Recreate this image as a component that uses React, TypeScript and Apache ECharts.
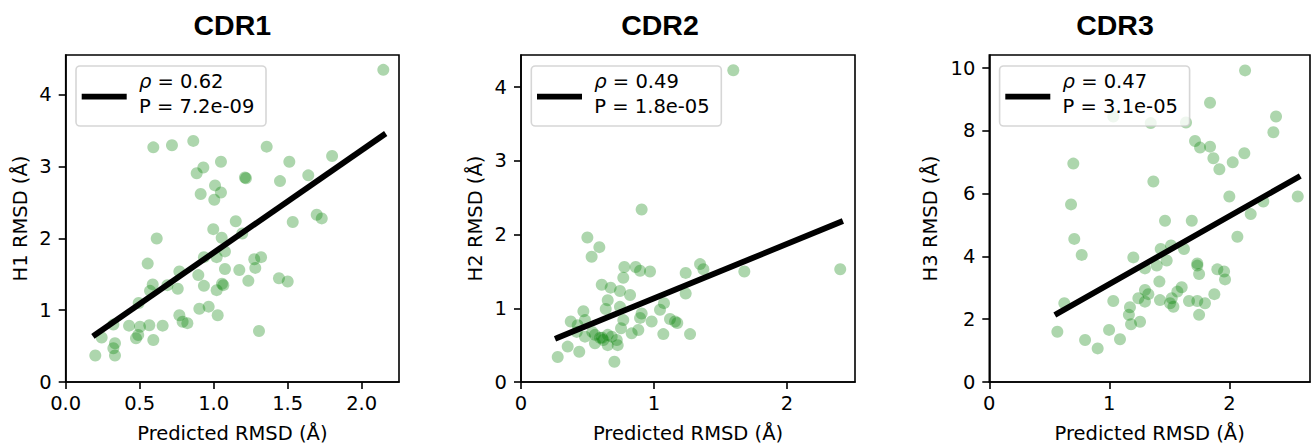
import React, { useEffect, useRef } from "react";
import * as echarts from "echarts";

// ---------- data ----------
const titles = ["CDR1", "CDR2", "CDR3"];
const yLabels = ["H1 RMSD (Å)", "H2 RMSD (Å)", "H3 RMSD (Å)"];
const xLabel = "Predicted RMSD (Å)";
const rhoValues = ["0.62", "0.49", "0.47"];
const pValues = ["7.2e-09", "1.8e-05", "3.1e-05"];

const cdr1Pred = [2.146, 0.592, 0.718, 0.862, 1.358, 0.885, 0.93, 1.049, 1.211, 1.218, 1.009, 1.049, 0.912, 1.004, 1.511, 1.448, 1.639, 1.8, 1.696, 1.73, 1.534, 1.149, 0.997, 1.193, 1.054, 0.615, 0.934, 1.02, 1.076, 1.274, 1.32, 1.281, 0.554, 0.768, 0.896, 1.076, 1.173, 1.234, 1.441, 1.5, 0.588, 0.687, 0.57, 0.757, 0.934, 1.056, 1.065, 1.02, 0.493, 0.903, 0.966, 1.027, 0.768, 0.79, 0.822, 0.322, 0.428, 0.502, 0.565, 0.655, 0.243, 0.475, 0.49, 0.592, 0.333, 0.322, 0.2, 0.333, 1.306];
const cdr1Rmsd = [4.35, 3.27, 3.3, 3.36, 3.28, 2.91, 2.99, 3.07, 2.85, 2.84, 2.74, 2.64, 2.62, 2.54, 3.07, 2.8, 2.88, 3.15, 2.33, 2.28, 2.23, 2.24, 2.13, 2.07, 2.01, 2.0, 1.74, 1.74, 1.82, 1.71, 1.74, 1.59, 1.65, 1.54, 1.49, 1.575, 1.56, 1.41, 1.445, 1.4, 1.36, 1.35, 1.27, 1.3, 1.34, 1.37, 1.35, 1.28, 1.1, 1.02, 1.05, 0.93, 0.93, 0.84, 0.82, 0.8, 0.785, 0.77, 0.79, 0.785, 0.62, 0.61, 0.655, 0.585, 0.54, 0.47, 0.37, 0.37, 0.71];

const cdr2Pred = [1.596, 0.907, 0.499, 0.589, 0.531, 2.4, 1.679, 1.346, 1.371, 1.238, 0.777, 0.862, 0.895, 0.97, 0.769, 0.607, 0.674, 0.744, 0.82, 1.238, 0.652, 0.637, 0.744, 1.075, 1.045, 0.469, 0.481, 0.374, 0.426, 0.907, 0.895, 0.982, 1.12, 1.158, 1.175, 0.769, 0.752, 0.832, 0.882, 1.07, 1.271, 0.419, 0.481, 0.556, 0.594, 0.619, 0.652, 0.682, 0.72, 0.727, 0.652, 0.556, 0.351, 0.438, 0.276, 0.702, 0.609, 0.536];
const cdr2Rmsd = [4.23, 2.34, 1.96, 1.83, 1.7, 1.53, 1.5, 1.6, 1.53, 1.48, 1.56, 1.56, 1.51, 1.5, 1.415, 1.32, 1.28, 1.235, 1.18, 1.2, 1.11, 0.99, 1.02, 1.07, 0.98, 0.96, 0.84, 0.82, 0.77, 0.93, 0.87, 0.82, 0.855, 0.82, 0.8, 0.84, 0.73, 0.66, 0.705, 0.65, 0.65, 0.68, 0.615, 0.64, 0.6, 0.57, 0.64, 0.615, 0.57, 0.5, 0.5, 0.525, 0.48, 0.41, 0.34, 0.275, 0.6, 0.68];

const cdr3Pred = [2.131, 1.839, 1.033, 1.345, 1.639, 2.389, 2.367, 1.714, 1.756, 1.839, 1.867, 1.917, 2.028, 2.125, 0.7, 1.367, 0.681, 2.0, 2.57, 2.283, 2.178, 1.464, 1.687, 0.708, 2.067, 0.77, 1.2, 1.428, 1.514, 1.622, 1.395, 1.478, 1.297, 1.733, 1.733, 1.748, 1.9, 1.956, 1.964, 1.417, 1.603, 1.567, 1.297, 1.325, 1.242, 1.297, 1.422, 1.52, 1.506, 1.534, 1.664, 1.733, 1.797, 1.875, 1.748, 1.033, 1.172, 1.163, 1.181, 1.256, 0.998, 1.089, 0.625, 0.567, 0.798, 0.903];
const cdr3Rmsd = [9.93, 8.9, 8.46, 8.25, 8.27, 8.46, 7.96, 7.68, 7.47, 7.5, 7.13, 6.78, 7.0, 7.29, 6.96, 6.39, 5.66, 5.91, 5.91, 5.75, 5.35, 5.14, 5.14, 4.56, 4.63, 4.05, 3.97, 4.24, 4.35, 4.24, 3.71, 3.87, 3.62, 3.78, 3.71, 3.44, 3.59, 3.52, 3.27, 3.2, 3.02, 2.88, 2.93, 2.8, 2.67, 2.56, 2.61, 2.67, 2.51, 2.4, 2.58, 2.58, 2.51, 2.8, 2.14, 2.58, 2.38, 2.14, 1.84, 1.92, 1.66, 1.36, 2.51, 1.6, 1.34, 1.07];

// regression line endpoints
const fit1Pred = [0.2, 2.146];
const fit1Rmsd = [0.66, 3.44];
const fit2Pred = [0.276, 2.4];
const fit2Rmsd = [0.6, 2.17];
const fit3Pred = [0.567, 2.57];
const fit3Rmsd = [2.18, 6.52];

// axis limits and ticks
const xMax = [2.252, 2.511, 2.672];
const yMax = [4.557, 4.437, 10.42];
const xTicks1 = [0, 0.5, 1.0, 1.5, 2.0];
const xTicks2 = [0, 1, 2];
const xTicks3 = [0, 1, 2];
const yTicks1 = [0, 1, 2, 3, 4];
const yTicks2 = [0, 1, 2, 3, 4];
const yTicks3 = [0, 2, 4, 6, 8, 10];

// ---------- layout ----------
const FONT = "DejaVu Sans";
const FS = 19.5;
const gridBoxes = [
  { left: 65.7, top: 55, width: 333.3, height: 327 },
  { left: 521, top: 55, width: 334, height: 327 },
  { left: 989.3, top: 55, width: 320.7, height: 327 },
];
const titleX = [232.3, 660, 1115];
const yLabelX = [20, 475, 930.5];

function zip(a: number[], b: number[]) {
  return a.map((v, i) => [v, b[i]]);
}

export default function App() {
  const ref = useRef<HTMLDivElement>(null);
  useEffect(() => {
    if (!ref.current) return;
    const chart = echarts.init(ref.current, undefined, { renderer: "svg" });
    const scatterData = [zip(cdr1Pred, cdr1Rmsd), zip(cdr2Pred, cdr2Rmsd), zip(cdr3Pred, cdr3Rmsd)];
    const fitData = [zip(fit1Pred, fit1Rmsd), zip(fit2Pred, fit2Rmsd), zip(fit3Pred, fit3Rmsd)];
    const xTicks = [xTicks1, xTicks2, xTicks3];
    const yTicks = [yTicks1, yTicks2, yTicks3];

    const grid = gridBoxes.map((g) => ({
      ...g,
      show: true,
      borderColor: "#000",
      borderWidth: 1.6,
      backgroundColor: "transparent",
      containLabel: false,
    }));

    const xAxis = [0, 1, 2].map((i) => ({
      type: "value",
      gridIndex: i,
      min: 0,
      max: xMax[i],
      splitLine: { show: false },
      axisLine: { show: true, onZero: false, lineStyle: { color: "#000", width: 1.6 } },
      axisTick: {
        show: true,
        inside: false,
        length: 7,
        lineStyle: { color: "#000", width: 1.6 },
        customValues: xTicks[i],
      },
      axisLabel: {
        show: true,
        margin: 11,
        color: "#000",
        fontFamily: FONT,
        fontSize: FS,
        customValues: xTicks[i],
        formatter: (v: number) => (i === 0 ? v.toFixed(1) : String(Math.round(v))),
      },
    }));

    const yAxis = [0, 1, 2].map((i) => ({
      type: "value",
      gridIndex: i,
      min: 0,
      max: yMax[i],
      splitLine: { show: false },
      axisLine: { show: true, onZero: false, lineStyle: { color: "#000", width: 1.6 } },
      axisTick: {
        show: true,
        inside: false,
        length: 7,
        lineStyle: { color: "#000", width: 1.6 },
        customValues: yTicks[i],
      },
      axisLabel: {
        show: true,
        margin: 14,
        color: "#000",
        fontFamily: FONT,
        fontSize: FS,
        customValues: yTicks[i],
        formatter: (v: number) => String(Math.round(v)),
      },
    }));

    const series: any[] = [];
    [0, 1, 2].forEach((i) => {
      series.push({
        type: "scatter",
        xAxisIndex: i,
        yAxisIndex: i,
        data: scatterData[i],
        symbol: "circle",
        symbolSize: 12,
        itemStyle: { color: "rgba(0,128,0,0.4)", borderWidth: 0 },
        z: 2,
        silent: true,
      });
      series.push({
        type: "line",
        xAxisIndex: i,
        yAxisIndex: i,
        data: fitData[i],
        symbol: "none",
        lineStyle: { color: "#000", width: 5.8, cap: "square" },
        z: 3,
        silent: true,
      });
    });

    const graphics: any[] = [];
    [0, 1, 2].forEach((i) => {
      const g = gridBoxes[i];
      const cx = g.left + g.width / 2;
      const cy = g.top + g.height / 2;
      // title
      graphics.push({
        type: "text",
        x: titleX[i],
        y: 24.5,
        z: 100,
        style: {
          text: titles[i],
          fontFamily: "Liberation Sans",
          fontWeight: "bold",
          fontSize: 28.5,
          fill: "#000",
          align: "center",
          verticalAlign: "middle",
        },
      });
      // x label
      graphics.push({
        type: "text",
        x: cx,
        y: 433.5,
        z: 100,
        style: {
          text: xLabel,
          fontFamily: FONT,
          fontSize: FS,
          fill: "#000",
          align: "center",
          verticalAlign: "middle",
        },
      });
      // y label
      graphics.push({
        type: "text",
        x: yLabelX[i],
        y: cy,
        rotation: Math.PI / 2,
        z: 100,
        style: {
          text: yLabels[i],
          fontFamily: FONT,
          fontSize: FS,
          fill: "#000",
          align: "center",
          verticalAlign: "middle",
        },
      });
      // legend
      const lx = g.left + 10.3;
      const ly = 66;
      graphics.push({
        type: "rect",
        z: 100,
        shape: { x: lx, y: ly, width: 190, height: 60, r: 4 },
        style: { fill: "rgba(255,255,255,0.8)", stroke: "rgba(204,204,204,0.8)", lineWidth: 1.6 },
      });
      graphics.push({
        type: "line",
        z: 101,
        shape: { x1: lx + 5.7, y1: 96.7, x2: lx + 50.7, y2: 96.7 },
        style: { stroke: "#000", lineWidth: 5.8 },
      });
      graphics.push({
        type: "text",
        x: lx + 63,
        y: 81.7,
        z: 101,
        style: {
          text: "{i|ρ} = " + rhoValues[i],
          fontFamily: FONT,
          fontSize: FS,
          fill: "#000",
          align: "left",
          verticalAlign: "middle",
          rich: {
            i: { fontFamily: FONT, fontStyle: "italic", fontSize: FS, fill: "#000" },
          },
        },
      });
      graphics.push({
        type: "text",
        x: lx + 63,
        y: 106.7,
        z: 101,
        style: {
          text: "P = " + pValues[i],
          fontFamily: FONT,
          fontSize: FS,
          fill: "#000",
          align: "left",
          verticalAlign: "middle",
        },
      });
    });

    chart.setOption({
      animation: false,
      backgroundColor: "#fff",
      grid,
      xAxis,
      yAxis,
      series,
      graphic: { elements: graphics },
    });
    return () => chart.dispose();
  }, []);

  return (
    <div
      ref={ref}
      style={{ position: "absolute", left: 0, top: 0, width: 1315, height: 447 }}
    />
  );
}
